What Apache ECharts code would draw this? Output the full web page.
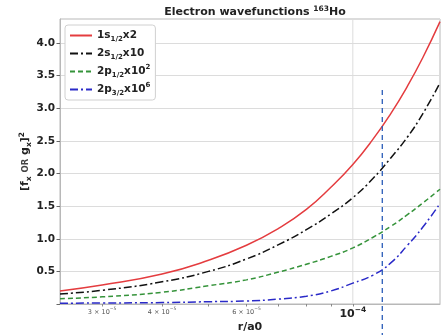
<!DOCTYPE html>
<html>
<head>
<meta charset="utf-8">
<script src="https://cdn.jsdelivr.net/npm/echarts@6/dist/echarts.min.js"></script>
<style>html,body{margin:0;padding:0;background:#fff}#c{width:442px;height:335px}</style>
</head>
<body>
<div id="c"></div>
<script>
// ---- data ----
const rVals = [2.45e-5, 3e-5, 4e-5, 5e-5, 6e-5, 7e-5, 8e-5, 9e-5, 1e-4, 1.1e-4, 1.2e-4, 1.3e-4, 1.4e-4, 1.52e-4];
const s1Vals  = [0.20, 0.29, 0.46, 0.67, 0.90, 1.16, 1.45, 1.79, 2.14, 2.52, 2.92, 3.34, 3.78, 4.33];
const s2Vals  = [0.155, 0.21, 0.34, 0.50, 0.69, 0.91, 1.14, 1.38, 1.63, 1.92, 2.24, 2.56, 2.92, 3.39];
const p12Vals = [0.08, 0.11, 0.18, 0.28, 0.37, 0.49, 0.61, 0.73, 0.86, 1.02, 1.19, 1.37, 1.55, 1.76];
const p32Vals = [0.012, 0.015, 0.022, 0.035, 0.046, 0.075, 0.12, 0.20, 0.32, 0.44, 0.63, 0.90, 1.18, 1.54];
const seriesNames = ['1s1/2x2', '2s1/2x10', '2p1/2x10^2', '2p3/2x10^6'];
const legendLabels = ['1s{sub|1/2}x2', '2s{sub|1/2}x10', '2p{sub|1/2}x10{sup|2}', '2p{sub|3/2}x10{sup|6}'];
const xTickVals = [3e-5, 4e-5, 6e-5, 1e-4];
const xTickLabels = ['{s|3 × 10}{ss|−5}', '{s|4 × 10}{ss|−5}', '{s|6 × 10}{ss|−5}', '{b|10}{bs|−4}'];
const xMinorTicks = [3e-5, 4e-5, 5e-5, 6e-5, 7e-5, 8e-5, 9e-5, 1e-4];
const xMin = 2.45e-5, xMax = 1.52e-4;
const yMin = 0, yMax = 4.37, yStep = 0.5;
const vLineR = 1.152e-4, vLineTop = 3.28, vLineBottom = -0.48;
const gridLineR = 1e-4;

const L = Math.log10;
const toPts = vals => rVals.map((r, i) => [L(r), vals[i]]);

const chart = echarts.init(document.getElementById('c'), null, {renderer: 'canvas'});
const FONT = 'DejaVu Sans';
const colors = ['#e43c3f', '#111111', '#35933a', '#2a2ac8'];
const dashes = ['solid', [8, 3, 2, 3], [5, 3], [8, 3, 2, 3]];
const allVals = [s1Vals, s2Vals, p12Vals, p32Vals];

const series = allVals.map((v, i) => ({
  name: seriesNames[i],
  type: 'line',
  data: toPts(v),
  smooth: 0.5,
  symbol: 'none',
  z: 5 - i,
  lineStyle: {color: colors[i], width: 1.5, type: dashes[i]},
  itemStyle: {color: colors[i]}
}));
series.push({
  name: 'grid1e-4', type: 'line', symbol: 'none', silent: true, z: 1,
  data: [[L(gridLineR), yMin], [L(gridLineR), yMax]],
  lineStyle: {color: '#dcdcdc', width: 1}
});
series.push({
  name: 'vline', type: 'line', symbol: 'none', silent: true, clip: false, z: 6,
  data: [[L(vLineR), vLineTop], [L(vLineR), vLineBottom]],
  lineStyle: {color: '#2a5cb8', width: 1.3, type: [5, 4]}
});

chart.setOption({
  animation: false,
  textStyle: {fontFamily: FONT},
  title: {
    text: 'Electron wavefunctions {sup|163}Ho',
    left: 250, top: 0, textAlign: 'center',
    textStyle: {
      fontFamily: FONT, fontSize: 11, fontWeight: 'bold', color: '#222', lineHeight: 14,
      rich: {sup: {fontFamily: FONT, fontSize: 7.5, fontWeight: 'bold', color: '#222', verticalAlign: 'top', lineHeight: 8}}
    }
  },
  grid: {left: 60, right: 2, top: 19, bottom: 31, show: true, borderColor: '#b8b8b8', borderWidth: 1,
         containLabel: false, outerBoundsMode: 'none'},
  legend: {
    data: seriesNames,
    orient: 'vertical', left: 65, top: 25,
    backgroundColor: '#fff', borderColor: '#d0d0d0', borderWidth: 1, borderRadius: 3,
    padding: [3, 5, 3, 4], itemGap: 3, itemWidth: 22, itemHeight: 10,
    itemStyle: {opacity: 0},
    formatter: name => legendLabels[seriesNames.indexOf(name)],
    textStyle: {
      fontFamily: FONT, fontSize: 10.5, fontWeight: 'bold', color: '#222', lineHeight: 15,
      rich: {
        sub: {fontFamily: FONT, fontSize: 7, fontWeight: 'bold', color: '#222', verticalAlign: 'bottom', lineHeight: 10},
        sup: {fontFamily: FONT, fontSize: 7, fontWeight: 'bold', color: '#222', verticalAlign: 'top', lineHeight: 10}
      }
    }
  },
  xAxis: {
    type: 'value', min: L(xMin), max: L(xMax),
    name: 'r/a0', nameLocation: 'middle', nameGap: 18, nameMoveOverlap: false,
    nameTextStyle: {fontFamily: FONT, fontSize: 11, fontWeight: 'bold', color: '#222'},
    axisLine: {show: true, lineStyle: {color: '#b8b8b8'}},
    axisTick: {show: true, length: 2.5, lineStyle: {color: '#888'}, customValues: xMinorTicks.map(L)},
    splitLine: {show: false},
    axisLabel: {
      customValues: xTickVals.map(L), margin: 2,
      formatter: v => {
        let best = 0, d = 1e9;
        xTickVals.forEach((t, i) => { const dd = Math.abs(L(t) - v); if (dd < d) { d = dd; best = i; } });
        return xTickLabels[best];
      },
      rich: {
        s: {fontFamily: FONT, fontSize: 6.5, color: '#555', lineHeight: 12, verticalAlign: 'middle'},
        ss: {fontFamily: FONT, fontSize: 4.5, color: '#555', verticalAlign: 'top', lineHeight: 9},
        b: {fontFamily: FONT, fontSize: 11, fontWeight: 'bold', color: '#222', lineHeight: 14, verticalAlign: 'bottom'},
        bs: {fontFamily: FONT, fontSize: 7.5, fontWeight: 'bold', color: '#222', verticalAlign: 'top', lineHeight: 14}
      }
    }
  },
  yAxis: {
    type: 'value', min: yMin, max: yMax, interval: yStep,
    name: '[f{sub|x} {or|OR} g{sub|x}]{sup|2}', nameLocation: 'middle', nameGap: 27, nameRotate: 90,
    nameMoveOverlap: false,
    nameTextStyle: {
      fontFamily: FONT, fontSize: 11, fontWeight: 'bold', color: '#222', lineHeight: 15,
      rich: {
        sub: {fontFamily: FONT, fontSize: 7.5, fontWeight: 'bold', color: '#222', verticalAlign: 'bottom', lineHeight: 11},
        sup: {fontFamily: FONT, fontSize: 7.5, fontWeight: 'bold', color: '#222', verticalAlign: 'top', lineHeight: 11},
        or: {fontFamily: FONT, fontSize: 8.5, color: '#444', lineHeight: 15}
      }
    },
    axisLine: {show: true, lineStyle: {color: '#b8b8b8'}},
    axisTick: {show: true, length: 3.5, lineStyle: {color: '#666'}},
    splitLine: {show: true, lineStyle: {color: '#dcdcdc', width: 1}},
    axisLabel: {
      showMaxLabel: false, margin: 5,
      fontFamily: FONT, fontSize: 10.5, fontWeight: 'bold', color: '#222',
      formatter: v => (v <= 0 ? '' : v.toFixed(1))
    }
  },
  series: series
});
</script>
</body>
</html>
